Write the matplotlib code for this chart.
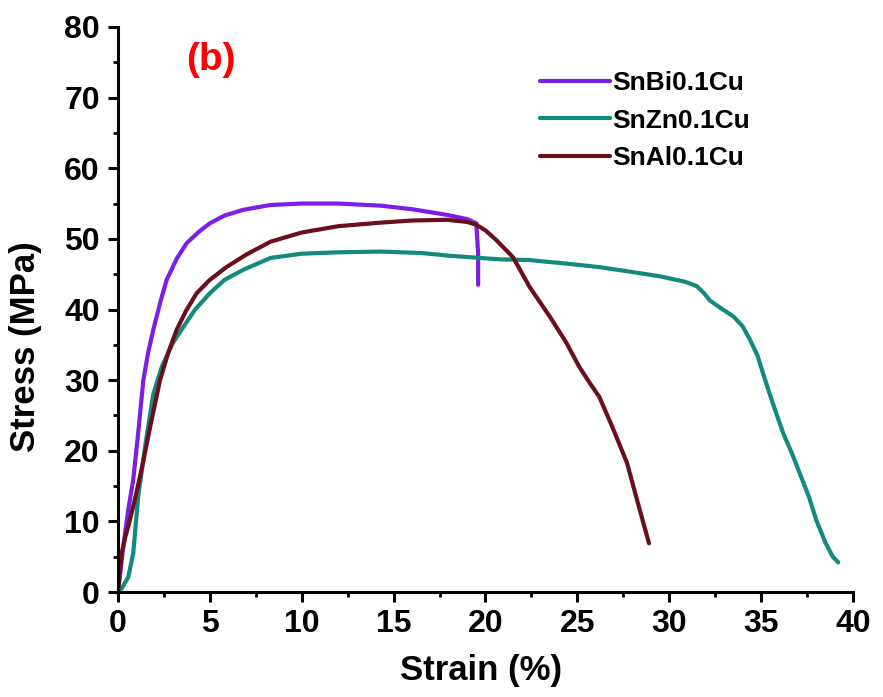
import matplotlib.pyplot as plt

# strain (%) / stress (MPa)
bi_strain = [0, 0.29, 0.55, 0.83, 1.1, 1.38, 1.65, 1.92, 2.3, 2.65, 3.2, 3.74, 4.4, 5.0, 5.8, 6.8,
             8.3, 10.0, 12.0, 14.3, 16.0, 17.9, 19.0, 19.5, 19.6, 19.6]
bi_stress = [0, 6.4, 11.5, 15.9, 22.5, 30.0, 34.0, 37.1, 41.0, 44.2, 47.2, 49.4, 51.0, 52.2, 53.3, 54.1,
             54.8, 55.0, 55.0, 54.7, 54.2, 53.4, 52.8, 52.2, 48.0, 43.5]

zn_strain = [0, 0.2, 0.56, 0.83, 1.1, 1.5, 1.92, 2.4, 3.0, 3.55, 4.2, 5.0, 5.8, 6.8, 8.3, 10.0, 12.0,
             14.3, 16.5, 18.1, 20.8, 22.4, 24.4, 26.2, 28.0, 29.5, 30.9, 31.5, 31.9, 32.2, 32.8, 33.5,
             34.0, 34.4, 34.8, 35.1, 35.6, 36.2, 36.7, 37.1, 37.6, 38.0, 38.5, 38.9, 39.2]
zn_stress = [0, 0.5, 2.1, 5.5, 13.5, 21.0, 28.0, 32.0, 35.3, 37.5, 40.0, 42.3, 44.2, 45.6, 47.3, 47.9, 48.1,
             48.2, 48.0, 47.6, 47.1, 47.0, 46.5, 46.0, 45.3, 44.7, 43.9, 43.3, 42.3, 41.3, 40.2, 39.0,
             37.6, 35.7, 33.5, 31.0, 27.0, 22.5, 19.5, 16.8, 13.5, 10.2, 7.0, 5.0, 4.2]

al_strain = [0, 0.1, 0.2, 0.4, 0.65, 1.0, 1.36, 1.8, 2.29, 2.75, 3.19, 3.7, 4.28, 5.0, 5.9, 7.0, 8.3,
             10.0, 12.0, 14.3, 16.0, 17.9, 19.0, 19.5, 20.0, 20.6, 21.5, 22.4, 23.5, 24.4, 25.1, 25.7,
             26.2, 26.9, 27.7, 28.4, 28.9]
al_stress = [0, 2.8, 5.5, 7.8, 10.2, 14.0, 18.3, 24.0, 30.0, 34.0, 37.1, 39.8, 42.3, 44.2, 46.0, 47.8, 49.6,
             50.9, 51.8, 52.3, 52.6, 52.7, 52.4, 52.0, 51.2, 49.8, 47.4, 43.2, 39.0, 35.3, 31.9, 29.5,
             27.6, 23.4, 18.3, 11.6, 6.9]

labels = ['SnBi0.1Cu', 'SnZn0.1Cu', 'SnAl0.1Cu']
colors = ['#7B1FE6', '#138A7D', '#6B0F1F']

plt.rcParams['font.family'] = ['Liberation Sans', 'DejaVu Sans']
plt.rcParams['font.weight'] = 'bold'

fig = plt.figure(figsize=(8.83, 6.97), dpi=100)
ax = fig.add_axes([0.1336, 0.1506, 0.8324, 0.8107])

series = [(bi_strain, bi_stress), (zn_strain, zn_stress), (al_strain, al_stress)]
for (xs, ys), c, lab in zip(series, colors, labels):
    ax.plot(xs, ys, color=c, lw=3, label=lab, solid_joinstyle='round', solid_capstyle='round')

ax.set_xlim(0, 40)
ax.set_ylim(0, 80)
ax.set_xticks(range(0, 41, 5))
ax.set_yticks(range(0, 81, 10))
ax.set_xticks([x + 2.5 for x in range(0, 40, 5)], minor=True)
ax.set_yticks([y + 5 for y in range(0, 80, 10)], minor=True)

for side in ['top', 'right']:
    ax.spines[side].set_visible(False)
for side in ['left', 'bottom']:
    ax.spines[side].set_linewidth(2.2)

ax.tick_params(which='major', direction='out', length=7, width=2.2, labelsize=23)
ax.tick_params(axis='x', which='major', pad=5)
ax.tick_params(axis='y', which='major', pad=6)
ax.tick_params(which='minor', direction='out', length=3.6, width=2.0)
for t in ax.get_xticklabels() + ax.get_yticklabels():
    t.set_fontweight('bold')

ax.set_xlabel('Strain (%)', fontsize=25, fontweight='bold')
ax.set_ylabel('Stress (MPa)', fontsize=25, fontweight='bold')
ax.xaxis.set_label_coords(0.494, -0.11)
ax.yaxis.set_label_coords(-0.103, 0.435)

ax.text(0.1265, 0.942, '(b)', transform=ax.transAxes, color='red',
        fontsize=28, fontweight='bold', ha='center', va='center')

leg = ax.legend(loc='upper left', bbox_to_anchor=(0.56, 0.94), frameon=False,
                fontsize=19, handlelength=2.65, handletextpad=0.08, labelspacing=0.5,
                borderaxespad=0)
for line in leg.get_lines():
    line.set_linewidth(3)

fig.savefig('out.png', dpi=100)
